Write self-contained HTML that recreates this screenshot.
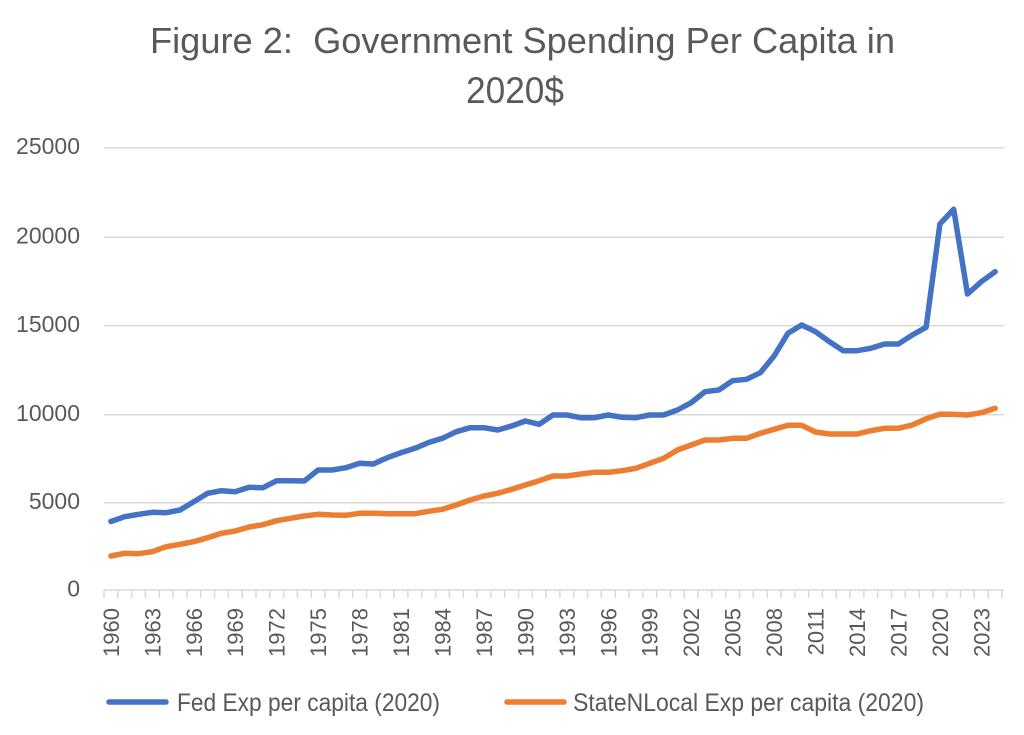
<!DOCTYPE html>
<html>
<head>
<meta charset="utf-8">
<style>
html,body{margin:0;padding:0;background:#fff;}
body{width:1024px;height:735px;overflow:hidden;}
svg{display:block;}
text{font-family:"Liberation Sans",Arial,sans-serif;fill:#595959;}
</style>
</head>
<body>
<svg width="1024" height="735" viewBox="0 0 1024 735" xmlns="http://www.w3.org/2000/svg">
<rect x="0" y="0" width="1024" height="735" fill="#fff"/>
<text x="150" y="53" font-size="36" style="white-space:pre" textLength="745" lengthAdjust="spacingAndGlyphs">Figure 2:  Government Spending Per Capita in</text>
<text x="466" y="103" font-size="37" textLength="98" lengthAdjust="spacingAndGlyphs">2020$</text>
<g stroke="#d9d9d9" stroke-width="1.5">
<line x1="104" y1="147.7" x2="1004" y2="147.7"/>
<line x1="104" y1="237.3" x2="1004" y2="237.3"/>
<line x1="104" y1="325.8" x2="1004" y2="325.8"/>
<line x1="104" y1="414.8" x2="1004" y2="414.8"/>
<line x1="104" y1="502.7" x2="1004" y2="502.7"/>
<line x1="104" y1="590" x2="1004" y2="590"/>
</g>
<path stroke="#d9d9d9" stroke-width="1.5" fill="none" d="M104.0 590v8M117.8 590v8M131.6 590v8M145.4 590v8M159.3 590v8M173.1 590v8M186.9 590v8M200.7 590v8M214.5 590v8M228.3 590v8M242.2 590v8M256.0 590v8M269.8 590v8M283.6 590v8M297.4 590v8M311.2 590v8M325.0 590v8M338.9 590v8M352.7 590v8M366.5 590v8M380.3 590v8M394.1 590v8M407.9 590v8M421.7 590v8M435.6 590v8M449.4 590v8M463.2 590v8M477.0 590v8M490.8 590v8M504.6 590v8M518.5 590v8M532.3 590v8M546.1 590v8M559.9 590v8M573.7 590v8M587.5 590v8M601.3 590v8M615.2 590v8M629.0 590v8M642.8 590v8M656.6 590v8M670.4 590v8M684.2 590v8M698.0 590v8M711.9 590v8M725.7 590v8M739.5 590v8M753.3 590v8M767.1 590v8M780.9 590v8M794.8 590v8M808.6 590v8M822.4 590v8M836.2 590v8M850.0 590v8M863.8 590v8M877.6 590v8M891.5 590v8M905.3 590v8M919.1 590v8M932.9 590v8M946.7 590v8M960.5 590v8M974.3 590v8M988.2 590v8M1002.0 590v8"/>
<g font-size="23" text-anchor="end">
<text x="80" y="154">25000</text>
<text x="80" y="243.6">20000</text>
<text x="80" y="332.1">15000</text>
<text x="80" y="421.1">10000</text>
<text x="80" y="509">5000</text>
<text x="80" y="596.3">0</text>
</g>
<g font-size="22" text-anchor="end">
<text transform="translate(118.9,608) rotate(-90)">1960</text>
<text transform="translate(160.3,608) rotate(-90)">1963</text>
<text transform="translate(201.8,608) rotate(-90)">1966</text>
<text transform="translate(243.2,608) rotate(-90)">1969</text>
<text transform="translate(284.7,608) rotate(-90)">1972</text>
<text transform="translate(326.1,608) rotate(-90)">1975</text>
<text transform="translate(367.6,608) rotate(-90)">1978</text>
<text transform="translate(409.0,608) rotate(-90)">1981</text>
<text transform="translate(450.5,608) rotate(-90)">1984</text>
<text transform="translate(491.9,608) rotate(-90)">1987</text>
<text transform="translate(533.4,608) rotate(-90)">1990</text>
<text transform="translate(574.8,608) rotate(-90)">1993</text>
<text transform="translate(616.3,608) rotate(-90)">1996</text>
<text transform="translate(657.7,608) rotate(-90)">1999</text>
<text transform="translate(699.2,608) rotate(-90)">2002</text>
<text transform="translate(740.6,608) rotate(-90)">2005</text>
<text transform="translate(782.1,608) rotate(-90)">2008</text>
<text transform="translate(823.5,608) rotate(-90)">2011</text>
<text transform="translate(865.0,608) rotate(-90)">2014</text>
<text transform="translate(906.4,608) rotate(-90)">2017</text>
<text transform="translate(947.9,608) rotate(-90)">2020</text>
<text transform="translate(989.3,608) rotate(-90)">2023</text>
</g>
<polyline fill="none" stroke="#ED7D31" stroke-width="5.5" stroke-linejoin="round" stroke-linecap="round" points="110.9,556 124.7,553.3 138.5,553.7 152.3,551.7 166.2,546.7 180.0,544.3 193.8,541.7 207.6,537.7 221.4,533.3 235.2,531 249.1,527 262.9,524.7 276.7,520.7 290.5,518.3 304.3,516 318.1,514.3 332.0,515 345.8,515.3 359.6,513.3 373.4,513.3 387.2,513.7 401.0,513.7 414.9,513.7 428.7,511.3 442.5,509.3 456.3,505 470.1,500 483.9,496 497.8,493.3 511.6,489.3 525.4,485 539.2,480.7 553.0,476 566.8,476 580.7,474 594.5,472.3 608.3,472.3 622.1,470.7 635.9,468.3 649.7,463.3 663.6,458.3 677.4,450 691.2,445 705.0,440 718.8,440 732.6,438.3 746.5,438.3 760.3,433.3 774.1,429.3 787.9,425.3 801.7,425.3 815.5,432 829.4,434 843.2,434 857.0,434 870.8,430.7 884.6,428.3 898.4,428.3 912.3,425 926.1,418.7 939.9,414.3 953.7,414.3 967.5,415 981.3,412.7 995.2,408.3"/>
<polyline fill="none" stroke="#4472C4" stroke-width="5.5" stroke-linejoin="round" stroke-linecap="round" points="110.9,521.5 124.7,516.7 138.5,514.3 152.3,512.3 166.2,512.7 180.0,510 193.8,501.7 207.6,493.3 221.4,490.7 235.2,491.7 249.1,487.3 262.9,487.7 276.7,480.7 290.5,480.7 304.3,481 318.1,470 332.0,470 345.8,467.7 359.6,463.3 373.4,464 387.2,457.7 401.0,452.7 414.9,448.3 428.7,442.5 442.5,438.3 456.3,431.7 470.1,427.7 483.9,427.7 497.8,430 511.6,426 525.4,421 539.2,424.3 553.0,415 566.8,415 580.7,417.7 594.5,417.7 608.3,415 622.1,417.3 635.9,417.7 649.7,415 663.6,415 677.4,410 691.2,402.7 705.0,391.7 718.8,390 732.6,380.7 746.5,379.3 760.3,372.7 774.1,356 787.9,333.3 801.7,325 815.5,331.7 829.4,341.7 843.2,350.7 857.0,350.7 870.8,348.3 884.6,344 898.4,344 912.3,335 926.1,327.3 939.9,224 953.7,209.3 967.5,294 981.3,281.7 995.2,271.7"/>
<line x1="109" y1="702" x2="166" y2="702" stroke="#4472C4" stroke-width="5.5" stroke-linecap="round"/>
<text x="177" y="711" font-size="25" textLength="263" lengthAdjust="spacingAndGlyphs">Fed Exp per capita (2020)</text>
<line x1="507" y1="702" x2="564" y2="702" stroke="#ED7D31" stroke-width="5.5" stroke-linecap="round"/>
<text x="573" y="711" font-size="25" textLength="351" lengthAdjust="spacingAndGlyphs">StateNLocal Exp per capita (2020)</text>
</svg>
</body>
</html>
